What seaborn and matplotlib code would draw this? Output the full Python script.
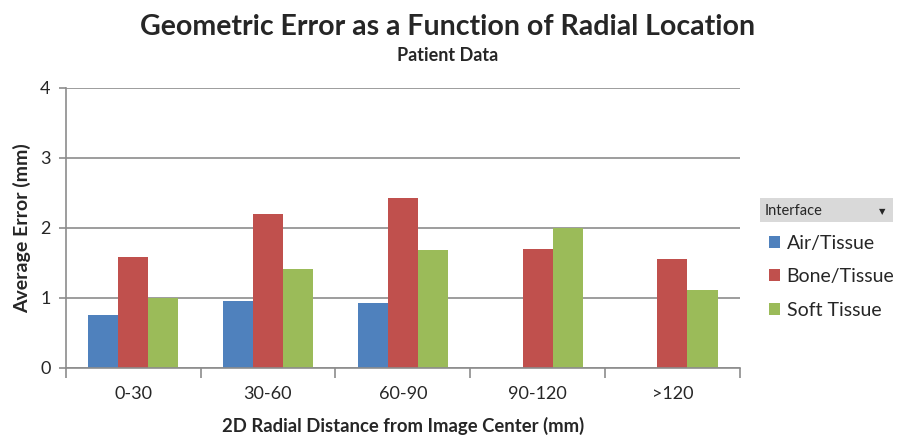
import numpy as np
import pandas as pd
from matplotlib import pyplot as plt
from matplotlib.patches import Rectangle
import seaborn as sns

categories = ['0-30', '30-60', '60-90', '90-120', '>120']
interfaces = ['Air/Tissue', 'Bone/Tissue', 'Soft Tissue']
air_tissue = [0.76, 0.96, 0.93, np.nan, np.nan]
bone_tissue = [1.59, 2.20, 2.42, 1.70, 1.55]
soft_tissue = [1.00, 1.41, 1.69, 2.00, 1.11]
colors = ['#4F81BD', '#C0504D', '#9BBB59']

df = pd.DataFrame({
    'range': categories * 3,
    'interface': np.repeat(interfaces, len(categories)),
    'error': air_tissue + bone_tissue + soft_tissue,
})

sns.set_style('white')
plt.rcParams['font.family'] = ['Lato', 'DejaVu Sans']

fig = plt.figure(figsize=(9, 4.37), dpi=100)
ax = fig.add_axes([0.073, 0.158, 0.749, 0.641])

sns.barplot(data=df, x='range', y='error', hue='interface', order=categories,
            hue_order=interfaces, palette=colors, width=0.67, gap=0,
            saturation=1, errorbar=None, legend=True, linewidth=0, ax=ax)

ax.set_ylim(0, 4)
ax.set_xlim(-0.5, len(categories) - 0.5)
ax.set_yticks([0, 1, 2, 3, 4])
ax.grid(True, axis='y', color='#8c8c8c', linewidth=1.2)
ax.set_axisbelow(True)
for s in ['top', 'right']:
    ax.spines[s].set_visible(False)
for s in ['left', 'bottom']:
    ax.spines[s].set_color('#8c8c8c')
    ax.spines[s].set_linewidth(1.2)

# category boundary ticks on x, labels centered
ax.set_xticks(np.arange(-0.5, len(categories)), minor=False, labels=[''] * (len(categories) + 1))
ax.set_xticks(np.arange(len(categories)), minor=True, labels=categories)
ax.tick_params(axis='x', which='major', length=7, width=1.2, color='#8c8c8c', direction='out', bottom=True)
ax.tick_params(axis='x', which='minor', length=0, pad=13, labelsize=13)
ax.tick_params(axis='y', length=5, width=1.2, color='#8c8c8c', direction='out', left=True, labelsize=13, pad=6)

ax.set_xlabel('2D Radial Distance from Image Center (mm)', fontsize=13.3, fontweight='bold', labelpad=11)
ax.set_ylabel('Average Error (mm)', fontsize=14, fontweight='bold', labelpad=6)

fig.text(0.497, 0.938, 'Geometric Error as a Function of Radial Location',
         ha='center', va='center', fontsize=20.5, fontweight='bold')
fig.text(0.497, 0.873, 'Patient Data', ha='center', va='center',
         fontsize=13, fontweight='bold')

# legend with a header bar
handles, labels = ax.get_legend_handles_labels()
ax.legend(handles, labels, loc='upper left', bbox_to_anchor=(0.846, 0.481),
          bbox_transform=fig.transFigure, frameon=False, fontsize=14,
          handlelength=0.55, handleheight=0.55, handletextpad=0.35,
          labelspacing=0.85, borderaxespad=0)
fig.patches.append(Rectangle((0.844, 0.492), 0.148, 0.055, transform=fig.transFigure,
                             facecolor='#d9d9d9', edgecolor='none'))
fig.text(0.85, 0.517, 'Interface', ha='left', va='center', fontsize=10.5)
fig.text(0.98, 0.517, '▼', ha='center', va='center', fontsize=6,
         family=['DejaVu Sans'])

plt.savefig('out.png', dpi=100)
